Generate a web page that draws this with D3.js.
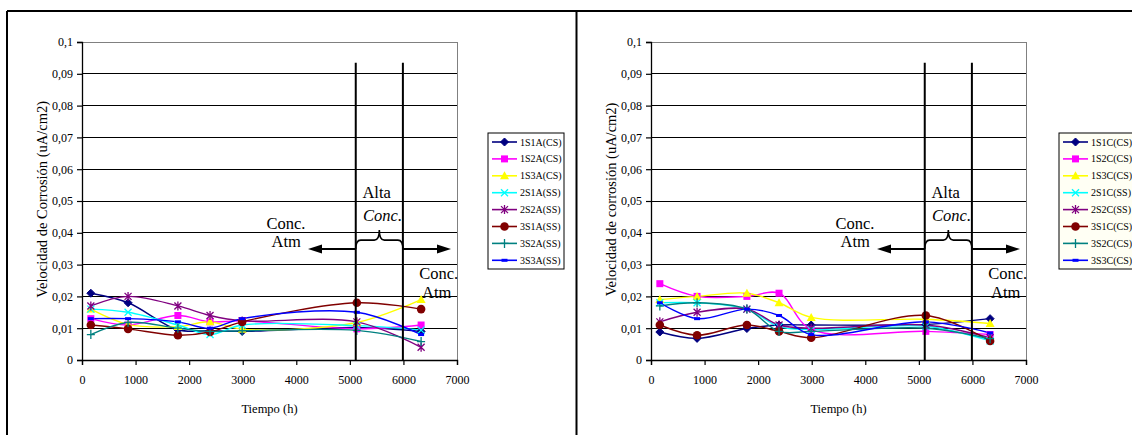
<!DOCTYPE html>
<html><head><meta charset="utf-8">
<script src="https://cdn.jsdelivr.net/npm/d3@7/dist/d3.min.js"></script>
<style>
html,body{margin:0;padding:0;background:#fff;}
svg{display:block;font-family:"Liberation Serif","Times New Roman",serif;}
</style></head><body>
<svg id="c" width="1132" height="435"></svg>
<script>
// ---- data ----
const hours = [165, 860, 1790, 2390, 2990, 5130, 6330];
const xTicks = [0, 1000, 2000, 3000, 4000, 5000, 6000, 7000];
const yTicks = [0, 0.01, 0.02, 0.03, 0.04, 0.05, 0.06, 0.07, 0.08, 0.09, 0.1];
const yTickLabels = ["0", "0,01", "0,02", "0,03", "0,04", "0,05", "0,06", "0,07", "0,08", "0,09", "0,1"];
const zoneLines = [5110, 5990];
const zoneTop = 0.0935;

const namesA = ["1S1A(CS)", "1S2A(CS)", "1S3A(CS)", "2S1A(SS)", "2S2A(SS)", "3S1A(SS)", "3S2A(SS)", "3S3A(SS)"];
const s1S1A = [0.021, 0.018, 0.0095, 0.0092, 0.009, 0.0102, 0.009];
const s1S2A = [0.013, 0.011, 0.014, 0.012, 0.0123, 0.0098, 0.011];
const s1S3A = [0.016, 0.0112, 0.0105, 0.012, 0.0097, 0.0118, 0.019];
const s2S1A = [0.016, 0.015, 0.011, 0.008, 0.011, 0.0108, 0.0094];
const s2S2A = [0.017, 0.020, 0.017, 0.014, 0.0123, 0.012, 0.004];
const s3S1A = [0.011, 0.0098, 0.0078, 0.0088, 0.012, 0.018, 0.016];
const s3S2A = [0.008, 0.0118, 0.010, 0.009, 0.0092, 0.0093, 0.0058];
const s3S3A = [0.013, 0.013, 0.012, 0.010, 0.013, 0.015, 0.008];

const namesC = ["1S1C(CS)", "1S2C(CS)", "1S3C(CS)", "2S1C(SS)", "2S2C(SS)", "3S1C(CS)", "3S2C(CS)", "3S3C(CS)"];
const s1S1C = [0.0088, 0.0068, 0.0099, 0.011, 0.011, 0.0112, 0.013];
const s1S2C = [0.024, 0.020, 0.020, 0.021, 0.0096, 0.009, 0.008];
const s1S3C = [0.019, 0.020, 0.021, 0.018, 0.0134, 0.0128, 0.0115];
const s2S1C = [0.018, 0.018, 0.016, 0.0105, 0.0096, 0.0106, 0.006];
const s2S2C = [0.012, 0.015, 0.016, 0.011, 0.010, 0.011, 0.007];
const s3S1C = [0.011, 0.0078, 0.011, 0.009, 0.007, 0.014, 0.006];
const s3S2C = [0.017, 0.018, 0.016, 0.009, 0.009, 0.010, 0.0067];
const s3S3C = [0.018, 0.013, 0.016, 0.014, 0.008, 0.012, 0.0085];

const colors = ["#000080", "#FF00FF", "#FFFF00", "#00FFFF", "#800080", "#800000", "#008080", "#0000FF"];
const markers = ["diamond", "square", "triangle", "x", "star", "circle", "plus", "dash"];

// ---- drawing ----
const svg = d3.select("#c");

// frame
svg.append("line").attr("x1", 7).attr("x2", 1132).attr("y1", 11).attr("y2", 11).attr("stroke", "#000").attr("stroke-width", 2);
svg.append("line").attr("x1", 7).attr("x2", 7).attr("y1", 11).attr("y2", 435).attr("stroke", "#000").attr("stroke-width", 2);
svg.append("line").attr("x1", 576.5).attr("x2", 576.5).attr("y1", 11).attr("y2", 435).attr("stroke", "#000").attr("stroke-width", 2);

function marker(g, type, color, cx, cy) {
  const m = g.append("g").attr("transform", `translate(${cx},${cy})`);
  switch (type) {
    case "diamond":
      m.append("path").attr("d", "M0,-4L4,0L0,4L-4,0Z").attr("fill", color).attr("stroke", color);
      break;
    case "square":
      m.append("rect").attr("x", -3.5).attr("y", -3.5).attr("width", 7).attr("height", 7).attr("fill", color);
      break;
    case "triangle":
      m.append("path").attr("d", "M0,-4.5L4.5,3.5L-4.5,3.5Z").attr("fill", color);
      break;
    case "x":
      m.append("path").attr("d", "M-3.5,-3.5L3.5,3.5M-3.5,3.5L3.5,-3.5").attr("stroke", color).attr("stroke-width", 1.3);
      break;
    case "star":
      m.append("path").attr("d", "M-3.5,-3.5L3.5,3.5M-3.5,3.5L3.5,-3.5M0,-4.5L0,4.5").attr("stroke", color).attr("stroke-width", 1.3);
      break;
    case "circle":
      m.append("circle").attr("r", 4.3).attr("fill", color);
      break;
    case "plus":
      m.append("path").attr("d", "M-4,0L4,0M0,-4.5L0,4.5").attr("stroke", color).attr("stroke-width", 1.3);
      break;
    case "dash":
      m.append("rect").attr("x", -3).attr("y", -1.5).attr("width", 6).attr("height", 3).attr("fill", color);
      break;
  }
}

function drawChart(opt) {
  const x = d3.scaleLinear().domain([0, 7000]).range([opt.left, opt.left + 375]);
  const y = d3.scaleLinear().domain([0, 0.1]).range([360, 42]);
  const g = svg.append("g");

  // gridlines
  g.append("g").selectAll("line").data(yTicks.filter(d => d > 0)).join("line")
    .attr("x1", x(0)).attr("x2", x(7000)).attr("y1", d => y(d)).attr("y2", d => y(d))
    .attr("stroke", d => d === 0.1 ? "#808080" : "#000").attr("stroke-width", 1).attr("shape-rendering", "crispEdges");
  // plot area right edge
  g.append("line").attr("x1", x(7000)).attr("x2", x(7000)).attr("y1", y(0.1)).attr("y2", y(0))
    .attr("stroke", "#808080").attr("shape-rendering", "crispEdges");

  // axes
  const ya = d3.axisLeft(y).tickValues(yTicks).tickFormat((d, i) => yTickLabels[i]).tickSize(5).tickPadding(4);
  const yg = g.append("g").attr("transform", `translate(${x(0)},0)`).call(ya);
  const xa = d3.axisBottom(x).tickValues(xTicks).tickFormat(d3.format("d")).tickSize(5).tickPadding(10);
  const xg = g.append("g").attr("transform", `translate(0,${y(0)})`).call(xa);
  [yg, xg].forEach(a => {
    a.select(".domain").attr("stroke", "#000").attr("stroke-width", 1.3);
    a.selectAll(".tick line").attr("stroke", "#000").attr("stroke-width", 1.2);
    a.selectAll("text").attr("font-family", "Liberation Serif").attr("font-size", 12).attr("fill", "#000");
  });

  // axis titles
  g.append("text").attr("x", x(3500)).attr("y", 413).attr("text-anchor", "middle")
    .attr("font-size", 12.5).text("Tiempo (h)");
  g.append("text").attr("transform", `translate(${opt.left - 40},${y(0.0505)}) rotate(-90)`)
    .attr("text-anchor", "middle").attr("dy", "0.35em").attr("font-size", 14.5).text(opt.ytitle);

  // series
  const line = d3.line().x((d, i) => x(hours[i])).y(d => y(d)).curve(d3.curveCatmullRom.alpha(0.5));
  opt.series.forEach((s, k) => {
    g.append("path").attr("d", line(s)).attr("fill", "none").attr("stroke", colors[k]).attr("stroke-width", 1.4);
  });
  opt.series.forEach((s, k) => {
    s.forEach((v, i) => marker(g, markers[k], colors[k], x(hours[i]), y(v)));
  });

  // zone lines
  zoneLines.forEach(h => {
    g.append("line").attr("x1", x(h)).attr("x2", x(h)).attr("y1", y(zoneTop)).attr("y2", y(0))
      .attr("stroke", "#000").attr("stroke-width", 2);
  });

  // annotations
  const fs = 16.5;
  const t = (hx, vy, txt, italic) => g.append("text").attr("x", x(hx)).attr("y", y(vy))
    .attr("text-anchor", "middle").attr("font-size", fs).attr("font-style", italic ? "italic" : "normal").text(txt);
  t(5500, 0.0509, "Alta");
  t(5610, 0.0438, "Conc.", true);
  t(3808, 0.0412, "Conc.");
  t(3813, 0.0355, "Atm");
  t(6659, 0.0255, "Conc.");
  t(6621, 0.0195, "Atm");

  // arrows
  const ay = y(0.0349);
  const arrow = (from, to) => {
    const x1 = x(from), x2 = x(to), dir = Math.sign(x2 - x1);
    g.append("line").attr("x1", x1).attr("x2", x2 - dir * 10).attr("y1", ay).attr("y2", ay)
      .attr("stroke", "#000").attr("stroke-width", 2);
    g.append("path").attr("d", `M${x2},${ay}L${x2 - dir * 14},${ay - 4.5}L${x2 - dir * 14},${ay + 4.5}Z`).attr("fill", "#000");
  };
  arrow(zoneLines[0], 4219);
  arrow(zoneLines[1], 6888);

  // brace
  const bx1 = x(zoneLines[0]), bx2 = x(zoneLines[1]), bm = (bx1 + bx2) / 2;
  const yb = y(0.0349), yf = y(0.0377), yt = y(0.0409);
  g.append("path").attr("d",
    `M${bx1},${yb} Q${bx1},${yf} ${bx1 + 5},${yf} L${bm - 5},${yf} Q${bm},${yf} ${bm},${yt} Q${bm},${yf} ${bm + 5},${yf} L${bx2 - 5},${yf} Q${bx2},${yf} ${bx2},${yb}`)
    .attr("fill", "none").attr("stroke", "#000").attr("stroke-width", 1.6);

  // legend
  const lg = g.append("g");
  lg.append("rect").attr("x", opt.legX).attr("y", 133).attr("width", 76).attr("height", 136)
    .attr("fill", opt.legFill).attr("stroke", "#000").attr("stroke-width", 1);
  opt.names.forEach((n, k) => {
    const ly = 142 + k * 16.9;
    lg.append("line").attr("x1", opt.legX + 4).attr("x2", opt.legX + 29).attr("y1", ly).attr("y2", ly)
      .attr("stroke", colors[k]).attr("stroke-width", 1.6);
    marker(lg, markers[k], colors[k], opt.legX + 16.5, ly);
    lg.append("text").attr("x", opt.legX + 32).attr("y", ly + 3.5).attr("font-size", 10).text(n);
  });
}

drawChart({ left: 82, ytitle: "Velocidad de Corrosión (uA/cm2)",
  series: [s1S1A, s1S2A, s1S3A, s2S1A, s2S2A, s3S1A, s3S2A, s3S3A], names: namesA, legX: 488, legFill: "#fff" });
drawChart({ left: 651, ytitle: "Velocidad de corrosión (uA/cm2)",
  series: [s1S1C, s1S2C, s1S3C, s2S1C, s2S2C, s3S1C, s3S2C, s3S3C], names: namesC, legX: 1059, legFill: "#fffff4" });
</script>
</body></html>
